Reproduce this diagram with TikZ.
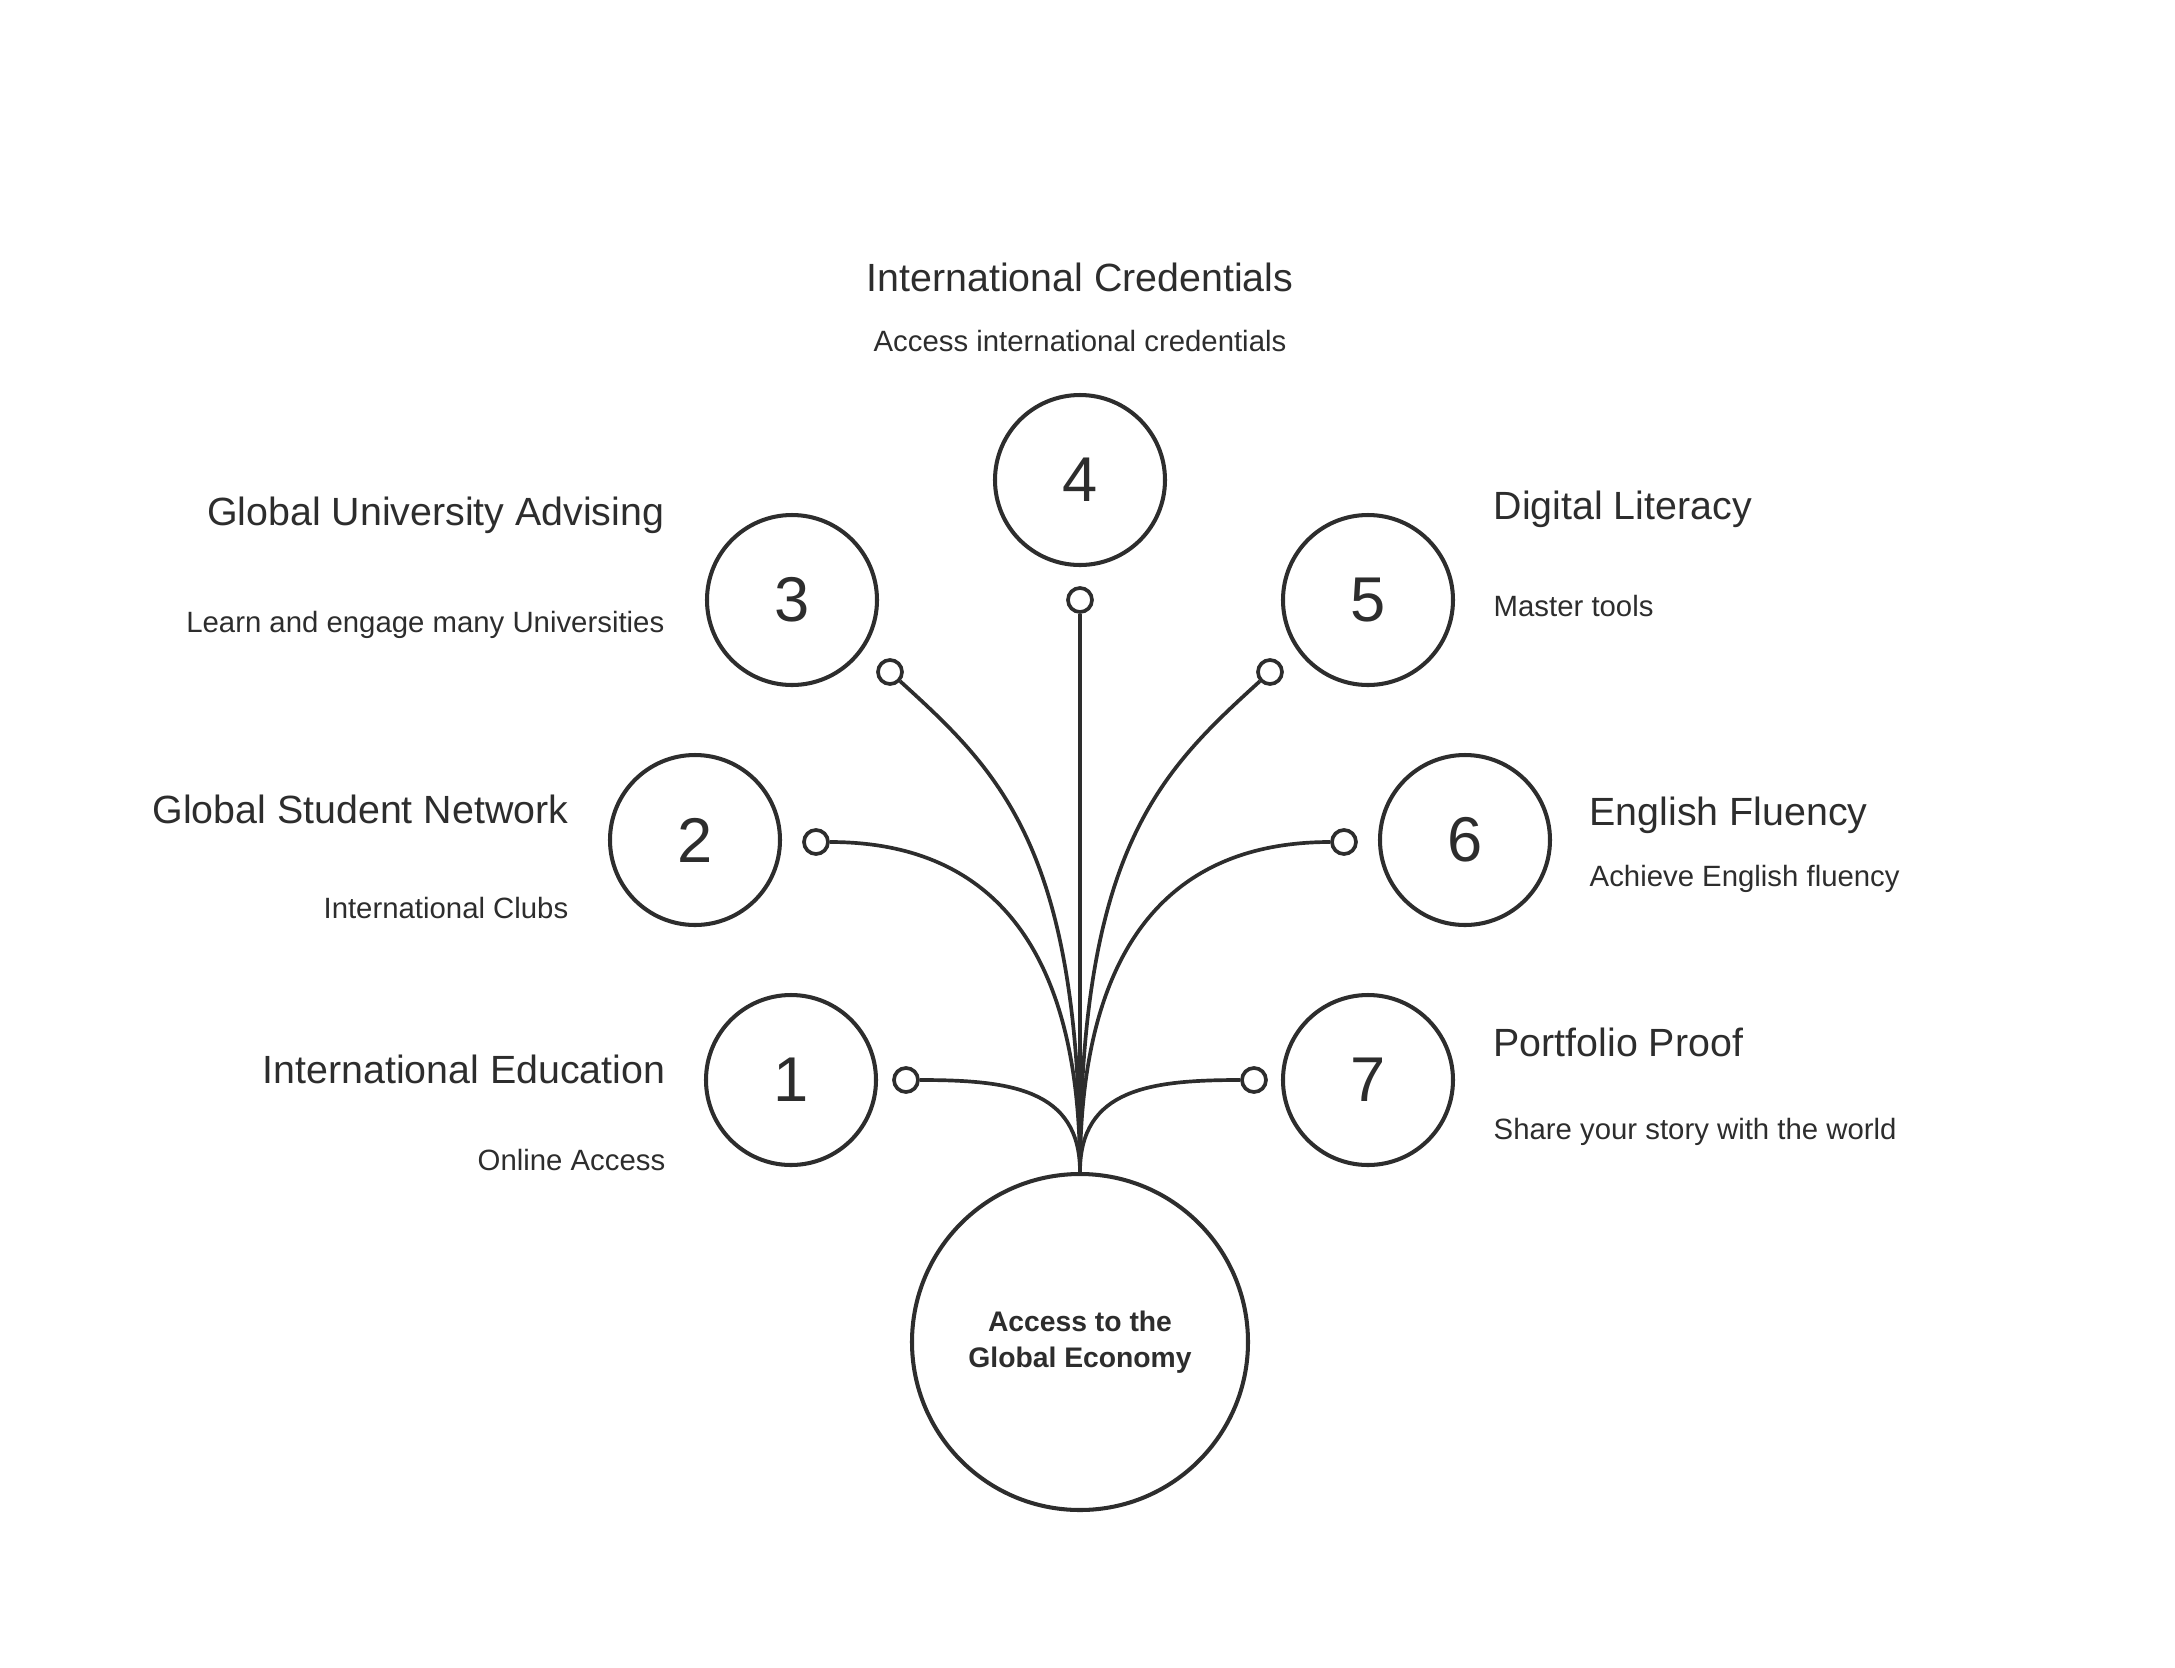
\documentclass[tikz,border=0pt]{standalone}
\usepackage{fontspec}
\setmainfont{Liberation Sans}
\usepackage{xcolor}
\usetikzlibrary{positioning}
\definecolor{ink}{HTML}{2D2D2D}

\begin{document}
\begin{tikzpicture}[
  numcirc/.style={circle, draw=ink, line width=1.15pt, minimum size=1.70cm, inner sep=0pt,
    text=ink, font=\fontsize{18}{20}\selectfont},
  rootcirc/.style={circle, draw=ink, line width=1.15pt, minimum size=3.36cm, inner sep=0pt,
    text=ink, align=center, font=\fontsize{8.05}{10.2}\selectfont\bfseries},
  dot/.style={circle, draw=ink, line width=1.05pt, fill=white, minimum size=0.24cm, inner sep=0pt},
  link/.style={draw=ink, line width=1.05pt},
  title/.style={inner sep=0pt, text=ink, font=\fontsize{11.2}{13}\selectfont},
  sub/.style={inner sep=0pt, text=ink, font=\fontsize{8.35}{10}\selectfont}
]
  \useasboundingbox (0,0) rectangle (21.75,-16.68);

  % root and numbered steps
  \node[rootcirc] (root) at (10.80,-13.42) {Access to the\\Global Economy};
  \node[numcirc] (n1) at (7.91,-10.80) {1};
  \node[numcirc] (n2) at (6.95,-8.40) {2};
  \node[numcirc] (n3) at (7.92,-6.00) {3};
  \node[numcirc] (n4) at (10.80,-4.80) {4};
  \node[numcirc] (n5) at (13.68,-6.00) {5};
  \node[numcirc] (n6) at (14.65,-8.40) {6};
  \node[numcirc] (n7) at (13.68,-10.80) {7};

  % open dots at the branch ends
  \node[dot] (s1) at (9.06,-10.80) {};
  \node[dot] (s2) at (8.16,-8.42) {};
  \node[dot] (s3) at (8.90,-6.72) {};
  \node[dot] (s4) at (10.80,-6.00) {};
  \node[dot] (s5) at (12.70,-6.72) {};
  \node[dot] (s6) at (13.44,-8.42) {};
  \node[dot] (s7) at (12.54,-10.80) {};

  % connectors
  \draw[link] (s4) -- (root.north);
  \draw[link] (s1) .. controls +(1.04,0) and +(0,0.83) .. (root.north);
  \draw[link] (s2) .. controls +(1.84,0) and +(0,2.13) .. (root.north);
  \draw[link] (s3) .. controls +(1.1,-1.0) and +(0,3.23) .. (root.north);
  \draw[link] (s5) .. controls +(-1.1,-1.0) and +(0,3.23) .. (root.north);
  \draw[link] (s6) .. controls +(-1.84,0) and +(0,2.13) .. (root.north);
  \draw[link] (s7) .. controls +(-1.04,0) and +(0,0.83) .. (root.north);

  % labels
  \node[title, anchor=base] (t4) at (10.80,-2.91) {International Credentials};
  \node[sub, anchor=base] (d4) at (10.80,-3.51) {Access international credentials};
  \node[title, anchor=base east] (t3) at (6.65,-5.25) {Global University Advising};
  \node[sub, anchor=base east] (d3) at (6.65,-6.32) {Learn and engage many Universities};
  \node[title, anchor=base east] (t2) at (5.69,-8.23) {Global Student Network};
  \node[sub, anchor=base east] (d2) at (5.69,-9.18) {International Clubs};
  \node[title, anchor=base east] (t1) at (6.66,-10.83) {International Education};
  \node[sub, anchor=base east] (d1) at (6.66,-11.70) {Online Access};
  \node[title, anchor=base west] (t5) at (14.93,-5.19) {Digital Literacy};
  \node[sub, anchor=base west] (d5) at (14.93,-6.16) {Master tools};
  \node[title, anchor=base west] (t6) at (15.89,-8.25) {English Fluency};
  \node[sub, anchor=base west] (d6) at (15.89,-8.86) {Achieve English fluency};
  \node[title, anchor=base west] (t7) at (14.93,-10.56) {Portfolio Proof};
  \node[sub, anchor=base west] (d7) at (14.93,-11.39) {Share your story with the world};
\end{tikzpicture}
\end{document}
